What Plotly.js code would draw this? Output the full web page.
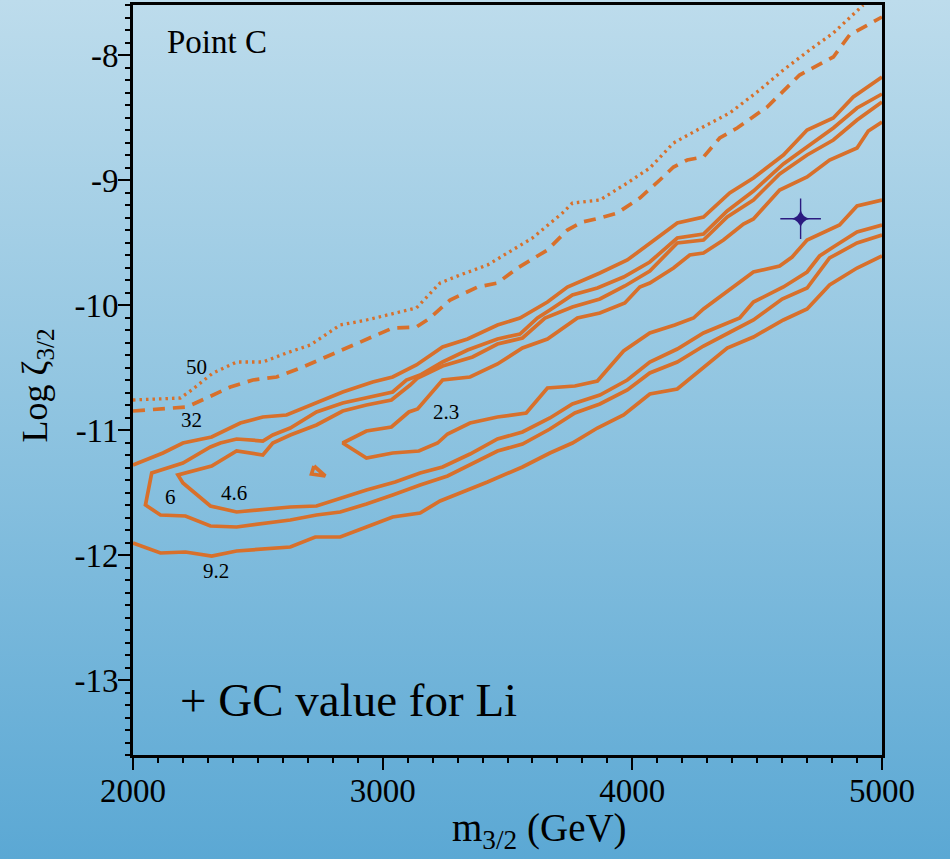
<!DOCTYPE html>
<html>
<head>
<meta charset="utf-8">
<script src="https://cdn.plot.ly/plotly-3.0.1.min.js"></script>
<style>
  html, body { margin: 0; padding: 0; }
  body {
    width: 950px; height: 859px; overflow: hidden;
    background: linear-gradient(to bottom, #bddcec 0%, #8dc3e0 50%, #5ba8d4 100%);
  }
  #chart { width: 950px; height: 859px; }
</style>
</head>
<body>
<div id="chart"></div>
<script>
// Chi-square contours in the (m_3/2, log zeta_3/2) plane, Point C

// chi^2 = 50 (dotted)
const chi50X = [2000, 2190, 2235, 2320, 2415, 2520, 2615, 2710, 2830, 2935, 3135, 3230, 3310, 3420, 3520, 3600, 3720, 3760, 3870, 3980, 4070, 4165, 4260, 4390, 4510, 4605, 4710, 4805, 4925];
const chi50Y = [-10.76, -10.744, -10.68, -10.544, -10.456, -10.456, -10.384, -10.32, -10.16, -10.12, -10.024, -9.824, -9.76, -9.68, -9.56, -9.464, -9.264, -9.184, -9.16, -9.024, -8.904, -8.704, -8.6, -8.464, -8.28, -8.12, -7.96, -7.824, -7.6];

// chi^2 = 32 (dashed)
const chi32X = [2000, 2215, 2295, 2390, 2480, 2575, 2680, 2790, 2895, 3040, 3135, 3190, 3270, 3380, 3460, 3540, 3660, 3740, 3800, 3870, 3940, 4030, 4110, 4165, 4220, 4285, 4350, 4420, 4540, 4670, 4805, 4870, 5000];
const chi32Y = [-10.848, -10.816, -10.744, -10.656, -10.6, -10.576, -10.496, -10.4, -10.304, -10.184, -10.176, -10.104, -9.96, -9.856, -9.824, -9.704, -9.56, -9.4, -9.336, -9.304, -9.264, -9.144, -9.0, -8.896, -8.84, -8.816, -8.664, -8.584, -8.416, -8.16, -8.016, -7.84, -7.696];

// chi^2 = 9.2, upper and lower branches
const chi92UpX = [2000, 2120, 2200, 2315, 2430, 2520, 2615, 2735, 2840, 2960, 3040, 3135, 3240, 3340, 3460, 3550, 3660, 3740, 3870, 3980, 4070, 4180, 4285, 4390, 4485, 4605, 4700, 4805, 4885, 5000];
const chi92UpY = [-11.28, -11.184, -11.104, -11.056, -10.944, -10.896, -10.88, -10.784, -10.696, -10.616, -10.576, -10.48, -10.336, -10.272, -10.16, -10.104, -9.976, -9.856, -9.744, -9.64, -9.504, -9.344, -9.296, -9.104, -8.984, -8.8, -8.6, -8.504, -8.336, -8.176];
const chi92LoX = [2000, 2110, 2210, 2315, 2415, 2520, 2630, 2730, 2830, 2935, 3040, 3150, 3230, 3310, 3420, 3560, 3670, 3760, 3860, 3965, 4070, 4180, 4285, 4380, 4485, 4605, 4700, 4790, 4900, 5000];
const chi92LoY = [-11.904, -11.984, -11.976, -12.008, -11.968, -11.952, -11.936, -11.856, -11.856, -11.776, -11.696, -11.664, -11.568, -11.504, -11.416, -11.296, -11.184, -11.104, -10.984, -10.88, -10.712, -10.672, -10.496, -10.344, -10.256, -10.12, -10.032, -9.84, -9.704, -9.608];

// chi^2 = 6, upper and lower branches (joined at the left)
const chi6UpX = [2075, 2200, 2310, 2350, 2415, 2520, 2560, 2630, 2735, 2840, 2935, 3040, 3095, 3150, 3240, 3340, 3460, 3550, 3620, 3670, 3760, 3860, 3965, 4070, 4180, 4285, 4380, 4485, 4605, 4700, 4805, 4900, 5000];
const chi6UpY = [-11.344, -11.264, -11.136, -11.104, -11.072, -11.088, -11.04, -10.984, -10.856, -10.784, -10.744, -10.696, -10.6, -10.56, -10.456, -10.36, -10.272, -10.232, -10.104, -10.04, -9.92, -9.864, -9.776, -9.656, -9.464, -9.432, -9.248, -9.088, -8.872, -8.736, -8.584, -8.424, -8.312];
const chi6LoX = [2075, 2050, 2110, 2210, 2310, 2415, 2630, 2735, 2830, 2935, 3040, 3150, 3260, 3360, 3460, 3560, 3670, 3770, 3870, 3980, 4070, 4180, 4285, 4385, 4485, 4600, 4700, 4790, 4900, 5000];
const chi6LoY = [-11.344, -11.6, -11.68, -11.688, -11.768, -11.776, -11.72, -11.68, -11.656, -11.592, -11.52, -11.44, -11.368, -11.264, -11.168, -11.112, -10.992, -10.864, -10.792, -10.68, -10.544, -10.456, -10.328, -10.224, -10.12, -9.952, -9.864, -9.624, -9.504, -9.44];

// chi^2 = 4.6
const chi46UpX = [2180, 2315, 2415, 2520, 2560, 2630, 2735, 2840, 2935, 3035, 3110, 3140, 3240, 3360, 3460, 3560, 3650, 3760, 3870, 3970, 4070, 4180, 4285, 4380, 4485, 4590, 4700, 4805, 4900, 5000];
const chi46UpY = [-11.36, -11.288, -11.168, -11.2, -11.104, -11.04, -10.96, -10.848, -10.8, -10.76, -10.64, -10.584, -10.488, -10.416, -10.312, -10.264, -10.104, -10.016, -9.952, -9.848, -9.728, -9.504, -9.48, -9.296, -9.16, -8.952, -8.8, -8.68, -8.52, -8.376];
const chi46LoX = [2180, 2200, 2310, 2415, 2630, 2735, 2830, 2935, 3050, 3150, 3240, 3350, 3460, 3560, 3670, 3760, 3870, 3980, 4070, 4180, 4285, 4390, 4430, 4485, 4605, 4700, 4750, 4805, 4900, 5000];
const chi46LoY = [-11.36, -11.424, -11.608, -11.656, -11.616, -11.608, -11.544, -11.48, -11.416, -11.344, -11.296, -11.192, -11.072, -11.016, -10.904, -10.792, -10.72, -10.6, -10.456, -10.352, -10.224, -10.136, -10.104, -9.976, -9.856, -9.736, -9.608, -9.536, -9.416, -9.36];

// chi^2 = 2.3
const chi23UpX = [2840, 2935, 3035, 3105, 3140, 3240, 3350, 3460, 3560, 3660, 3780, 3870, 3970, 4030, 4070, 4165, 4230, 4285, 4365, 4445, 4485, 4590, 4700, 4790, 4900, 4945, 5000];
const chi23UpY = [-11.104, -11.008, -10.976, -10.856, -10.832, -10.6, -10.576, -10.472, -10.344, -10.272, -10.104, -10.064, -9.984, -9.856, -9.824, -9.704, -9.6, -9.584, -9.48, -9.352, -9.312, -9.08, -8.976, -8.84, -8.744, -8.608, -8.536];
const chi23LoX = [2840, 2935, 3040, 3145, 3220, 3260, 3350, 3460, 3575, 3660, 3770, 3860, 3965, 4070, 4170, 4245, 4285, 4385, 4485, 4590, 4640, 4700, 4790, 4830, 4900, 5000];
const chi23LoY = [-11.104, -11.224, -11.184, -11.168, -11.104, -11.032, -10.944, -10.896, -10.864, -10.664, -10.648, -10.608, -10.368, -10.224, -10.16, -10.104, -10.032, -9.888, -9.736, -9.688, -9.616, -9.48, -9.4, -9.36, -9.208, -9.16];

// small closed island of the 2.3 contour
const islandX = [2725, 2715, 2770, 2725];
const islandY = [-11.288, -11.352, -11.368, -11.288];

// GC value for Li
const gcX = [4674];
const gcY = [-9.31];

// contour level labels
const levelText = ['50', '32', '9.2', '6', '4.6', '2.3'];
const levelX = [2256, 2236, 2332, 2152, 2405, 3254];
const levelY = [-10.496, -10.92, -12.128, -11.536, -11.504, -10.856];

// axis ticks
const xTickVals = [2000, 3000, 4000, 5000];
const xTickText = ['2000', '3000', '4000', '5000'];
const xMidTicks = [2500, 3500, 4500];
const yTickVals = [-13, -12, -11, -10, -9, -8];
const yTickText = ['-13', '-12', '-11', '-10', '-9', '-8'];
const yMidTicks = [-13.5, -12.5, -11.5, -10.5, -9.5, -8.5];

const SERIF = '"Liberation Serif", "Times New Roman", Times, serif';
const ORANGE = '#d8702b';
const STAR = '#2b1a80';
const LW = 3.7;

// closed-left contours: walk the upper branch right-to-left, then the lower branch left-to-right
function loop(ux, uy, lx, ly) {
  return { x: ux.slice().reverse().concat(lx.slice(1)), y: uy.slice().reverse().concat(ly.slice(1)) };
}
const c6 = loop(chi6UpX, chi6UpY, chi6LoX, chi6LoY);
const c46 = loop(chi46UpX, chi46UpY, chi46LoX, chi46LoY);
const c23 = loop(chi23UpX, chi23UpY, chi23LoX, chi23LoY);

function solid(x, y) {
  return { x: x, y: y, type: 'scatter', mode: 'lines', hoverinfo: 'skip',
           line: { color: ORANGE, width: LW, shape: 'linear' } };
}

const traces = [
  { x: chi50X, y: chi50Y, type: 'scatter', mode: 'lines', hoverinfo: 'skip',
    line: { color: ORANGE, width: 3.3, dash: '2.5px,4px' } },
  { x: chi32X, y: chi32Y, type: 'scatter', mode: 'lines', hoverinfo: 'skip',
    line: { color: ORANGE, width: LW, dash: '12px,8px' } },
  solid(chi92UpX, chi92UpY),
  solid(chi92LoX, chi92LoY),
  solid(c6.x, c6.y),
  solid(c46.x, c46.y),
  solid(c23.x, c23.y),
  solid(islandX, islandY),
  { x: gcX, y: gcY, type: 'scatter', mode: 'markers', hoverinfo: 'skip',
    marker: { symbol: 'cross-thin', size: 29, line: { color: STAR, width: 1.4 } } },
  { x: gcX, y: gcY, type: 'scatter', mode: 'markers', hoverinfo: 'skip',
    marker: { symbol: 'star-diamond', size: 13, color: STAR, line: { width: 0 } } }
];

const annotations = levelText.map((t, i) => ({
  x: levelX[i], y: levelY[i], xref: 'x', yref: 'y', text: t, showarrow: false,
  font: { family: SERIF, size: 21, color: '#000' }, xanchor: 'center', yanchor: 'middle'
}));
annotations.push(
  { x: 0.043, y: 0.951, xref: 'paper', yref: 'paper', text: 'Point C', showarrow: false,
    xanchor: 'left', yanchor: 'middle', font: { family: SERIF, size: 33, color: '#000' } },
  { x: 0.06, y: 0.074, xref: 'paper', yref: 'paper', text: '+ GC value for Li', showarrow: false,
    xanchor: 'left', yanchor: 'middle', font: { family: SERIF, size: 47, color: '#000' } },
  { x: 0.543, y: -0.101, xref: 'paper', yref: 'paper', text: 'm<sub>3/2</sub> (GeV)', showarrow: false,
    xanchor: 'center', yanchor: 'middle', font: { family: SERIF, size: 39, color: '#000' } },
  { x: -0.128, y: 0.493, xref: 'paper', yref: 'paper', text: 'Log \u03b6<sub>3/2</sub>', showarrow: false,
    textangle: -90, xanchor: 'center', yanchor: 'middle', font: { family: SERIF, size: 36, color: '#000' } }
);

const tickBase = { showgrid: false, zeroline: false, tickcolor: '#000', tickwidth: 2 };
const XR = [2000, 5000];
const YR = [-13.6, -7.6];

const layout = {
  width: 950, height: 859,
  margin: { l: 133, r: 68, t: 5, b: 104, pad: 0 },
  paper_bgcolor: 'rgba(0,0,0,0)',
  plot_bgcolor: 'rgba(0,0,0,0)',
  showlegend: false,
  font: { family: SERIF, color: '#000' },
  xaxis: Object.assign({}, tickBase, {
    range: XR, tickmode: 'array', tickvals: xTickVals, ticktext: xTickText,
    ticks: 'outside', ticklen: 12, ticklabelstandoff: -8,
    tickfont: { family: SERIF, size: 33, color: '#000' },
    showline: true, linewidth: 3, linecolor: '#000', mirror: true,
    minor: { tickmode: 'linear', tick0: 2000, dtick: 100, ticks: 'outside', ticklen: 5,
             tickwidth: 2, tickcolor: '#000', showgrid: false }
  }),
  xaxis2: Object.assign({}, tickBase, {
    overlaying: 'x', anchor: 'y', side: 'bottom', range: XR,
    tickmode: 'array', tickvals: xMidTicks, ticks: 'outside', ticklen: 9,
    showticklabels: false, showline: false
  }),
  xaxis3: Object.assign({}, tickBase, {
    overlaying: 'x', anchor: 'y', side: 'top', range: XR,
    tickmode: 'array', tickvals: xTickVals, ticks: 'inside', ticklen: 12,
    showticklabels: false, showline: false,
    minor: { tickmode: 'linear', tick0: 2000, dtick: 100, ticks: 'inside', ticklen: 5,
             tickwidth: 2, tickcolor: '#000', showgrid: false }
  }),
  xaxis4: Object.assign({}, tickBase, {
    overlaying: 'x', anchor: 'y', side: 'top', range: XR,
    tickmode: 'array', tickvals: xMidTicks, ticks: 'inside', ticklen: 9,
    showticklabels: false, showline: false
  }),
  yaxis: Object.assign({}, tickBase, {
    range: YR, tickmode: 'array', tickvals: yTickVals, ticktext: yTickText,
    ticks: 'outside', ticklen: 12, ticklabelstandoff: -7,
    tickfont: { family: SERIF, size: 33, color: '#000' },
    showline: true, linewidth: 3, linecolor: '#000', mirror: true,
    minor: { tickmode: 'linear', tick0: -13, dtick: 0.1, ticks: 'outside', ticklen: 5,
             tickwidth: 2, tickcolor: '#000', showgrid: false }
  }),
  yaxis2: Object.assign({}, tickBase, {
    overlaying: 'y', anchor: 'x', side: 'left', range: YR,
    tickmode: 'array', tickvals: yMidTicks, ticks: 'outside', ticklen: 9,
    showticklabels: false, showline: false
  }),
  yaxis3: Object.assign({}, tickBase, {
    overlaying: 'y', anchor: 'x', side: 'right', range: YR,
    tickmode: 'array', tickvals: yTickVals, ticks: 'inside', ticklen: 12,
    showticklabels: false, showline: false,
    minor: { tickmode: 'linear', tick0: -13, dtick: 0.1, ticks: 'inside', ticklen: 5,
             tickwidth: 2, tickcolor: '#000', showgrid: false }
  }),
  yaxis4: Object.assign({}, tickBase, {
    overlaying: 'y', anchor: 'x', side: 'right', range: YR,
    tickmode: 'array', tickvals: yMidTicks, ticks: 'inside', ticklen: 9,
    showticklabels: false, showline: false
  }),
  annotations: annotations
};

Plotly.newPlot('chart', traces, layout, { staticPlot: true, displayModeBar: false });
</script>
</body>
</html>
